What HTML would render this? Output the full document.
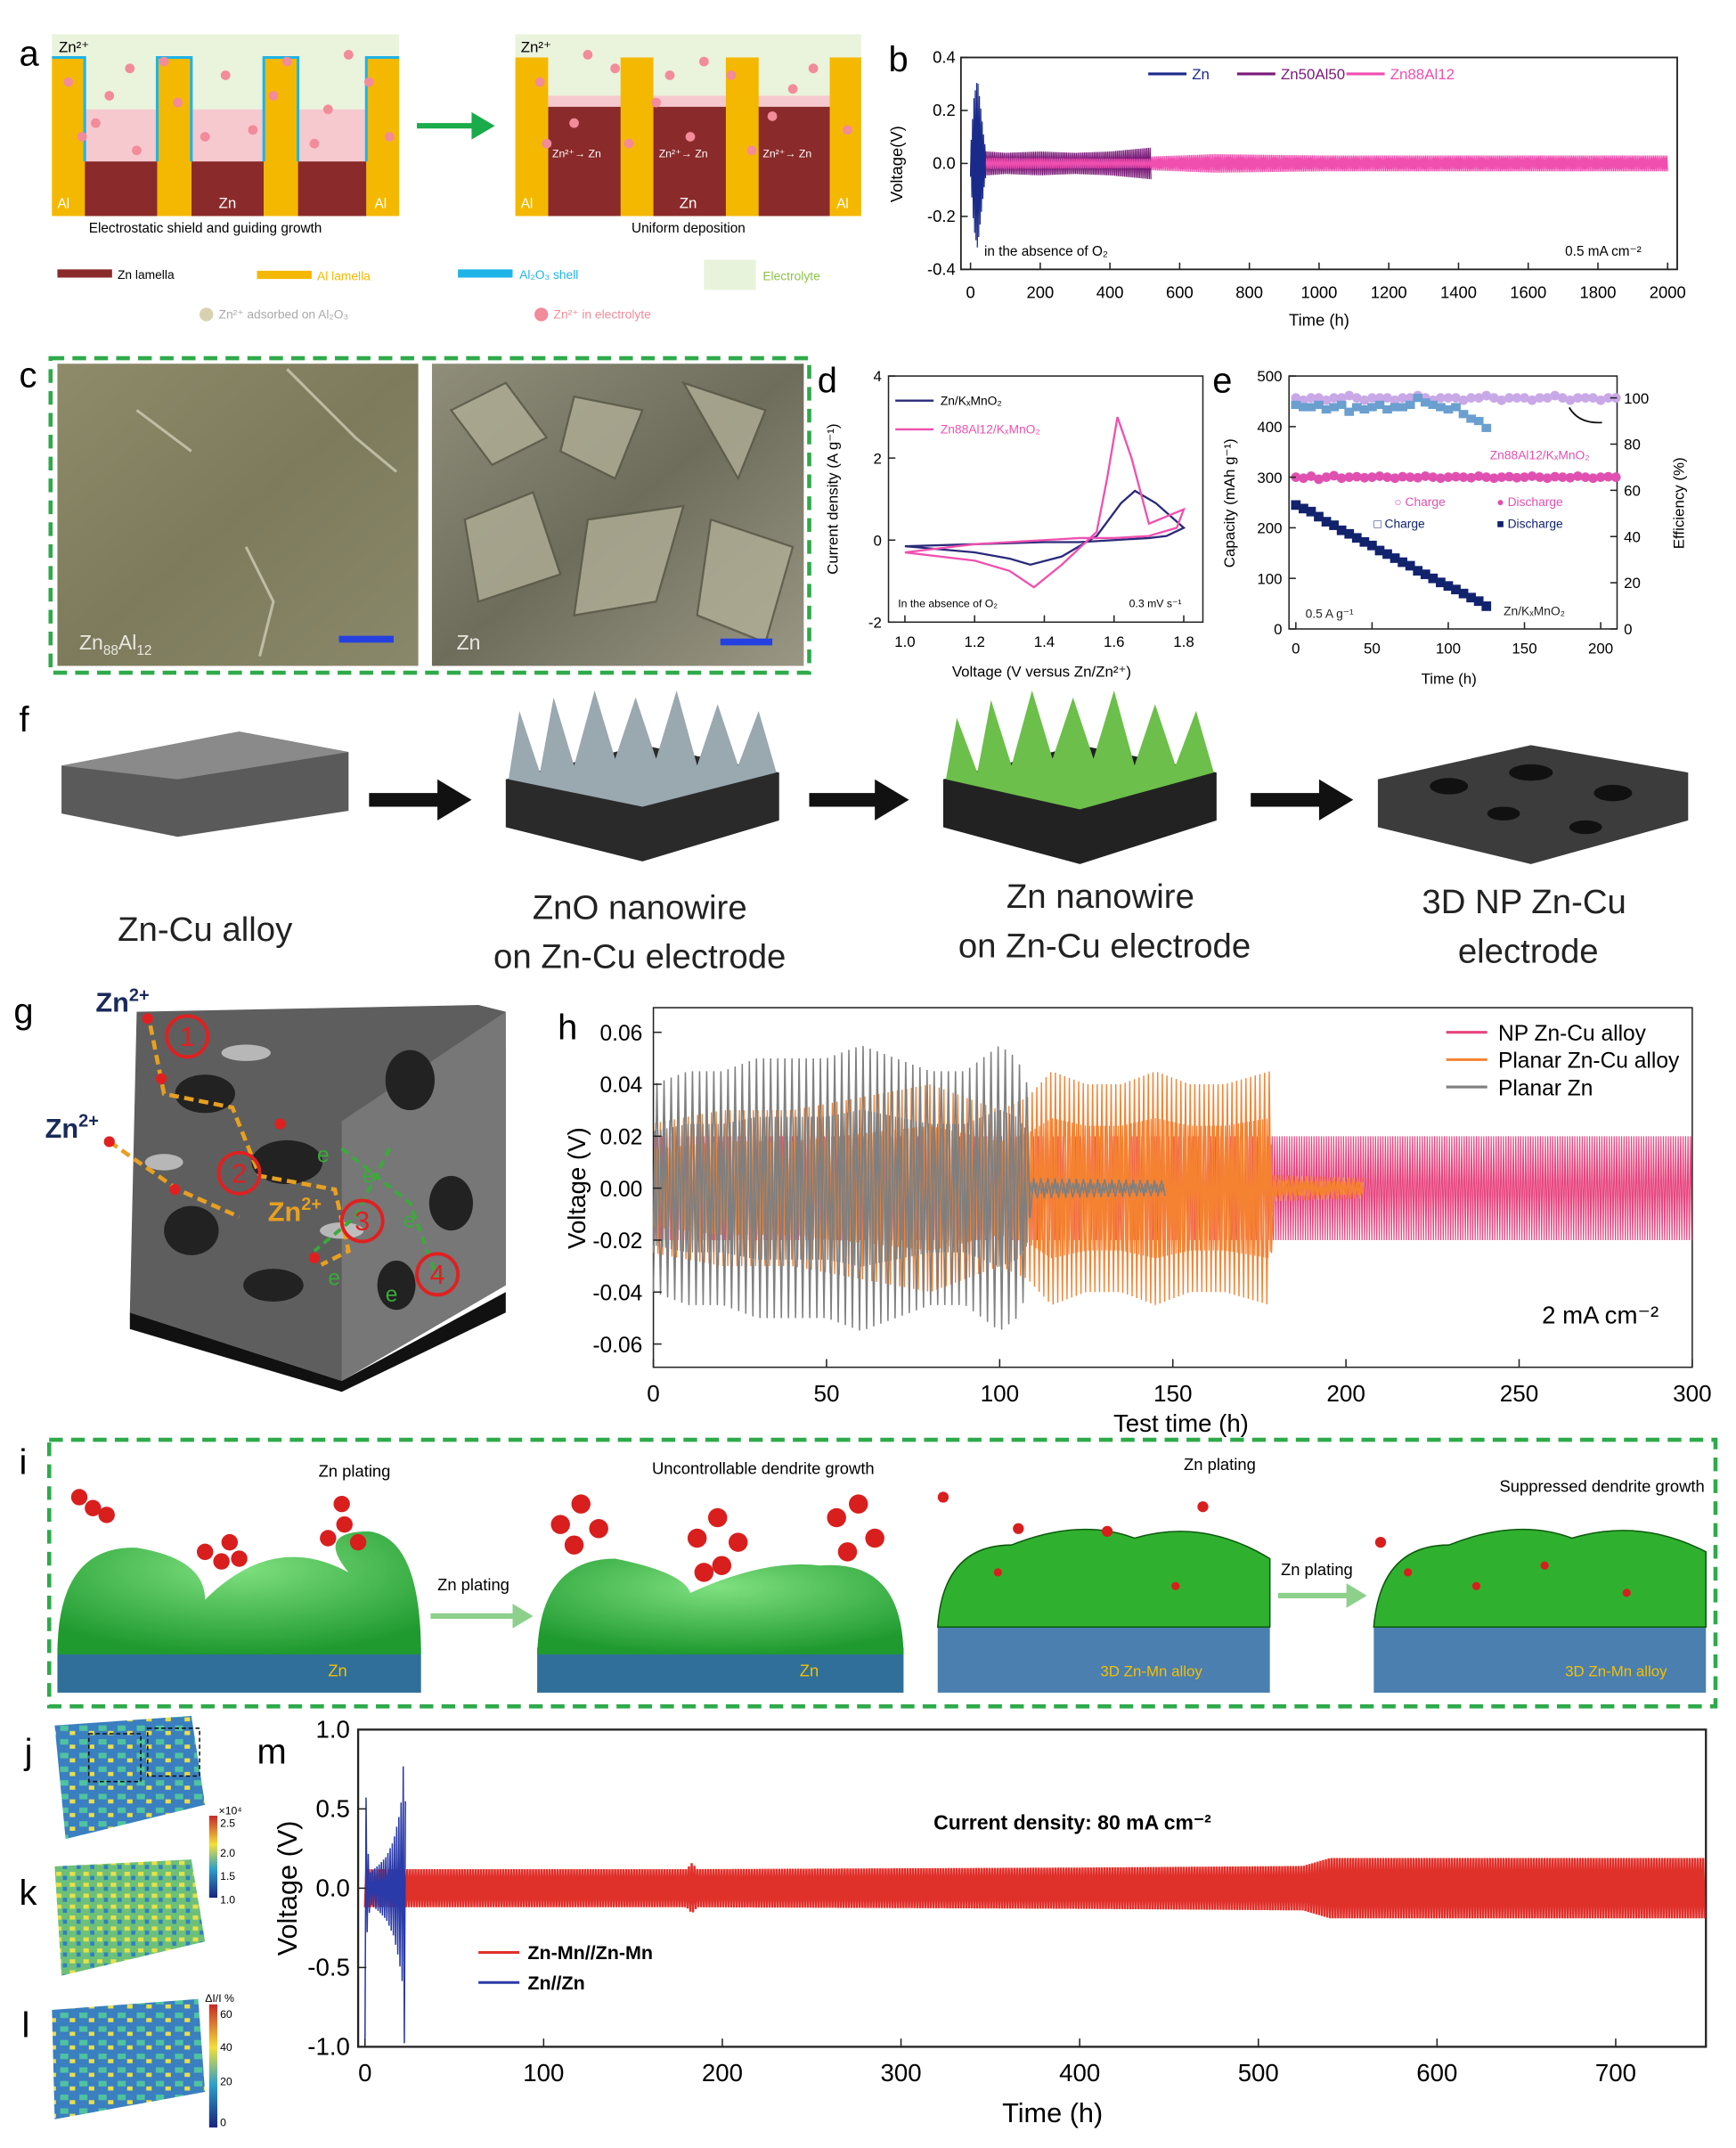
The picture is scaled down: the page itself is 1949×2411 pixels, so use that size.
<!DOCTYPE html>
<html><head><meta charset="utf-8">
<style>
html,body{margin:0;padding:0;background:#fff;}
svg{display:block;}
text{font-family:"Liberation Sans",sans-serif;}
</style></head>
<body>
<svg id="fig" xmlns="http://www.w3.org/2000/svg" width="1949" height="2411" viewBox="0 0 1270 1571">
<defs>
<linearGradient id="semL" x1="0" y1="0" x2="1" y2="1"><stop offset="0" stop-color="#8e8b6a"/><stop offset="0.5" stop-color="#7d7b5c"/><stop offset="1" stop-color="#8a886a"/></linearGradient>
<linearGradient id="semR" x1="0" y1="0" x2="1" y2="1"><stop offset="0" stop-color="#8f8e7a"/><stop offset="0.5" stop-color="#6e6d5c"/><stop offset="1" stop-color="#9a9884"/></linearGradient>
<radialGradient id="dome" cx="0.5" cy="0.3" r="0.7"><stop offset="0" stop-color="#7fe07f"/><stop offset="1" stop-color="#1f9a2f"/></radialGradient>
<linearGradient id="cb1" x1="0" y1="1" x2="0" y2="0"><stop offset="0" stop-color="#1a237e"/><stop offset="0.35" stop-color="#2ca0c8"/><stop offset="0.65" stop-color="#f2e03a"/><stop offset="1" stop-color="#c62828"/></linearGradient>
<pattern id="hm" width="14" height="10" patternUnits="userSpaceOnUse"><rect width="14" height="10" fill="#3a7fc0"/><rect x="2" y="2" width="6" height="4" fill="#4fc3a0"/><rect x="9" y="6" width="4" height="3" fill="#e8e04a"/></pattern>
<pattern id="hm2" width="10" height="8" patternUnits="userSpaceOnUse"><rect width="10" height="8" fill="#6cc07a"/><rect x="1" y="1" width="4" height="3" fill="#e8e04a"/><rect x="6" y="4" width="3" height="3" fill="#2f7fc0"/></pattern>
</defs>

<g>
<text x="14" y="48" font-size="26">a</text>
<g>
<rect x="38" y="25" width="254" height="133" fill="#eaf3dc"/>
<rect x="62" y="118" width="53" height="40" fill="#8b2a2a"/><rect x="140" y="118" width="53" height="40" fill="#8b2a2a"/><rect x="218" y="118" width="50" height="40" fill="#8b2a2a"/>
<rect x="62" y="80" width="53" height="38" fill="#f6c9cf"/><rect x="140" y="80" width="53" height="38" fill="#f6c9cf"/><rect x="218" y="80" width="50" height="38" fill="#f6c9cf"/>
<rect x="38" y="42" width="24" height="116" fill="#f5b800"/><rect x="115" y="42" width="25" height="116" fill="#f5b800"/><rect x="193" y="42" width="25" height="116" fill="#f5b800"/><rect x="268" y="42" width="24" height="116" fill="#f5b800"/>
<path d="M38 42H62V118 M115 118V42H140V118 M193 118V42H218V118 M268 118V42H292" stroke="#1eb4e8" stroke-width="2" fill="none"/>
<text x="43" y="38" font-size="11">Zn²⁺</text>
<text x="42" y="152" font-size="10" fill="#fff">Al</text><text x="160" y="152" font-size="11" fill="#fff">Zn</text><text x="274" y="152" font-size="10" fill="#fff">Al</text>
<text x="65" y="170" font-size="10">Electrostatic shield and guiding growth</text>
</g>
<path d="M305 90H345V82L362 92L345 102V94H305Z" fill="#1aab4a"/>
<g>
<rect x="377" y="25" width="253" height="133" fill="#eaf3dc"/>
<rect x="401" y="78" width="215" height="80" fill="#8b2a2a"/>
<rect x="401" y="70" width="215" height="8" fill="#f6c9cf"/>
<rect x="377" y="42" width="24" height="116" fill="#f5b800"/><rect x="454" y="42" width="24" height="116" fill="#f5b800"/><rect x="531" y="42" width="24" height="116" fill="#f5b800"/><rect x="607" y="42" width="23" height="116" fill="#f5b800"/>
<text x="381" y="38" font-size="11">Zn²⁺</text>
<text x="404" y="115" font-size="8" fill="#fff">Zn²⁺→ Zn</text><text x="482" y="115" font-size="8" fill="#fff">Zn²⁺→ Zn</text><text x="558" y="115" font-size="8" fill="#fff">Zn²⁺→ Zn</text>
<text x="381" y="152" font-size="10" fill="#fff">Al</text><text x="497" y="152" font-size="11" fill="#fff">Zn</text><text x="612" y="152" font-size="10" fill="#fff">Al</text>
<text x="462" y="170" font-size="10">Uniform deposition</text>
</g>
<g id="dotsA"></g>
<g font-size="9">
<rect x="42" y="197" width="40" height="6" fill="#8b2a2a"/><text x="86" y="204">Zn lamella</text>
<rect x="188" y="198" width="40" height="6" fill="#f5b800"/><text x="232" y="205" fill="#f5b800">Al lamella</text>
<rect x="335" y="197" width="40" height="6" fill="#1eb4e8"/><text x="380" y="204" fill="#1eb4e8">Al₂O₃ shell</text>
<rect x="515" y="190" width="38" height="22" fill="#e8f3dc"/><text x="558" y="205" fill="#8bc34a">Electrolyte</text>
<circle cx="151" cy="230" r="5" fill="#d8d0b0"/><text x="160" y="233" fill="#aaa">Zn²⁺ adsorbed on Al₂O₃</text>
<circle cx="396" cy="230" r="5" fill="#f28b9a"/><text x="405" y="233" fill="#f28b9a">Zn²⁺ in electrolyte</text>
</g>
</g>

<g id="panelB">
<text x="650" y="52" font-size="26">b</text>
</g>

<g>
<text x="14" y="283" font-size="26">c</text>
<rect x="37" y="262" width="555" height="230" fill="none" stroke="#2eaa4a" stroke-width="3" stroke-dasharray="10 6"/>
<rect x="42" y="266" width="264" height="221" fill="url(#semL)"/>
<path d="M210 270 L260 320 L290 345 M180 400 L200 440 L190 480 M100 300 L140 330" stroke="#d8d6c0" stroke-width="2" fill="none" opacity="0.7"/>
<rect x="316" y="266" width="272" height="221" fill="url(#semR)"/>
<path d="M330 300 L370 280 L400 320 L360 340Z M420 290 L470 300 L450 350 L410 330Z M500 280 L560 300 L540 350Z M340 380 L390 360 L410 420 L350 440Z M430 380 L500 370 L480 440 L420 450Z M520 380 L580 400 L560 470 L510 450Z" fill="#b0ae96" stroke="#5a5948" stroke-width="1.5" opacity="0.8"/>
<text x="58" y="475" font-size="15" fill="#e8e8e0">Zn<tspan font-size="10" dy="4">88</tspan><tspan dy="-4">Al</tspan><tspan font-size="10" dy="4">12</tspan></text>
<text x="334" y="475" font-size="15" fill="#e8e8e0">Zn</text>
<rect x="248" y="465" width="40" height="5" fill="#2540e0"/><rect x="527" y="467" width="38" height="5" fill="#2540e0"/>
</g>

<g id="panelD">
<text x="598" y="287" font-size="26">d</text>
</g>
<g id="panelE">
<text x="887" y="287" font-size="26">e</text>
</g>

<g>
<text x="14" y="535" font-size="26">f</text>
<path d="M45 560 L175 535 L255 550 L255 593 L130 612 L45 595Z" fill="#5a5a5a"/>
<path d="M45 560 L175 535 L255 550 L130 570Z" fill="#8a8a8a"/>
<path d="M270 580H320V570L345 585L320 600V590H270Z" fill="#111"/>
<path d="M592 580H640V570L665 585L640 600V590H592Z" fill="#111"/>
<path d="M915 580H965V570L990 585L965 600V590H915Z" fill="#111"/>
<g>
<path d="M370 570 L470 545 L570 565 L570 600 L470 630 L370 605Z" fill="#2a2a2a"/>
<path d="M372 570 L380 520 L395 565 L405 510 L420 560 L435 505 L450 555 L465 510 L480 555 L495 505 L510 560 L525 515 L540 560 L555 520 L568 565 L470 590Z" fill="#9aa8b0"/>
</g>
<g>
<path d="M690 570 L790 545 L890 565 L890 600 L790 632 L690 605Z" fill="#222"/>
<path d="M692 570 L700 525 L715 565 L725 512 L740 560 L755 505 L770 555 L785 510 L800 555 L815 505 L830 560 L845 515 L860 560 L875 520 L888 565 L790 592Z" fill="#6cbf4a"/>
</g>
<g>
<path d="M1008 570 L1120 545 L1235 565 L1235 600 L1120 632 L1008 605Z" fill="#3c3c3c"/>
<ellipse cx="1060" cy="575" rx="14" ry="6" fill="#111"/><ellipse cx="1120" cy="565" rx="16" ry="6" fill="#111"/><ellipse cx="1180" cy="580" rx="14" ry="6" fill="#111"/><ellipse cx="1100" cy="595" rx="12" ry="5" fill="#111"/><ellipse cx="1160" cy="605" rx="12" ry="5" fill="#111"/>
</g>
<g font-size="25" fill="#222" text-anchor="middle">
<text x="150" y="688">Zn-Cu alloy</text>
<text x="468" y="672">ZnO  nanowire</text>
<text x="468" y="708">on Zn-Cu electrode</text>
<text x="805" y="664">Zn  nanowire</text>
<text x="808" y="700">on Zn-Cu electrode</text>
<text x="1115" y="668">3D NP Zn-Cu</text>
<text x="1118" y="704">electrode</text>
</g>
</g>

<g>
<text x="10" y="748" font-size="26">g</text>
<path d="M100 740 L350 735 L370 740 L370 940 L250 1010 L95 960Z" fill="#5e5e5e"/>
<path d="M95 960 L250 1010 L370 945 L370 960 L250 1018 L95 972Z" fill="#111"/>
<path d="M250 1010 L250 820 L370 740 L370 940Z" fill="#777"/>
<g fill="#222"><ellipse cx="150" cy="800" rx="22" ry="14"/><ellipse cx="210" cy="850" rx="26" ry="16"/><ellipse cx="140" cy="900" rx="20" ry="18"/><ellipse cx="300" cy="790" rx="18" ry="22"/><ellipse cx="330" cy="880" rx="16" ry="20"/><ellipse cx="200" cy="940" rx="22" ry="12"/><ellipse cx="290" cy="940" rx="14" ry="18"/></g>
<g fill="#ddd" opacity="0.7"><ellipse cx="180" cy="770" rx="18" ry="6"/><ellipse cx="120" cy="850" rx="14" ry="6"/><ellipse cx="250" cy="900" rx="16" ry="6"/></g>
<g fill="none" stroke="#e8a020" stroke-width="3" stroke-dasharray="7 4"><path d="M110 750 L120 800 L170 810 L190 860 L245 870 L255 915 L235 925"/><path d="M80 835 L130 870 L175 890"/></g>
<g fill="none" stroke="#3aaa3a" stroke-width="2.5" stroke-dasharray="6 4"><path d="M250 840 L300 880 L320 935"/><path d="M285 840 L260 890 L230 915"/></g>
<g fill="none" stroke="#e02020" stroke-width="2.5"><circle cx="137" cy="758" r="15"/><circle cx="175" cy="858" r="15"/><circle cx="265" cy="893" r="15"/><circle cx="320" cy="932" r="15"/></g>
<g fill="#e02020" font-size="20" text-anchor="middle"><text x="137" y="765">1</text><text x="175" y="865">2</text><text x="265" y="900">3</text><text x="320" y="939">4</text></g>
<g fill="#e02020"><circle cx="108" cy="745" r="4"/><circle cx="80" cy="835" r="4"/><circle cx="128" cy="870" r="4"/><circle cx="205" cy="822" r="4"/><circle cx="230" cy="920" r="4"/><circle cx="118" cy="789" r="4"/></g>
<text x="70" y="740" font-size="20" font-weight="bold" fill="#1a2a5a">Zn<tspan font-size="13" dy="-8">2+</tspan></text>
<text x="33" y="832" font-size="20" font-weight="bold" fill="#1a2a5a">Zn<tspan font-size="13" dy="-8">2+</tspan></text>
<text x="196" y="893" font-size="20" font-weight="bold" fill="#e8a020">Zn<tspan font-size="13" dy="-8">2+</tspan></text>
<g fill="#3aaa3a" font-size="16"><text x="232" y="850">e</text><text x="265" y="865">e</text><text x="295" y="898">e</text><text x="240" y="940">e</text><text x="282" y="952">e</text></g>
</g>

<g id="panelH">
<text x="408" y="760" font-size="26">h</text>
</g>

<g>
<text x="14" y="1078" font-size="26">i</text>
<rect x="36" y="1053" width="1219" height="195" fill="none" stroke="#2eaa4a" stroke-width="3" stroke-dasharray="10 6"/>
<g>
<rect x="42" y="1205" width="266" height="33" fill="#2f6f9a"/>
<path d="M42 1210 Q42 1130 100 1132 Q150 1140 150 1170 Q200 1120 255 1150 Q230 1120 270 1120 Q308 1125 308 1210Z" fill="url(#dome)"/>
<g fill="#d91e1e"><circle cx="58" cy="1095" r="6"/><circle cx="68" cy="1103" r="6"/><circle cx="78" cy="1108" r="6"/><circle cx="150" cy="1135" r="6"/><circle cx="162" cy="1142" r="6"/><circle cx="175" cy="1140" r="6"/><circle cx="168" cy="1128" r="6"/><circle cx="240" cy="1125" r="6"/><circle cx="252" cy="1115" r="6"/><circle cx="262" cy="1128" r="6"/><circle cx="250" cy="1100" r="6"/></g>
<text x="233" y="1080" font-size="12">Zn plating</text>
<text x="240" y="1226" font-size="12" fill="#f5c000">Zn</text>
</g>
<path d="M315 1180 H375 V1173 L390 1182 L375 1191 V1184 H315Z" fill="#8cd08c"/>
<text x="320" y="1163" font-size="12">Zn plating</text>
<g>
<rect x="393" y="1205" width="268" height="33" fill="#2f6f9a"/>
<path d="M393 1210 Q395 1140 450 1140 Q500 1150 505 1165 Q560 1140 600 1145 Q660 1140 661 1210Z" fill="url(#dome)"/>
<g fill="#d91e1e"><circle cx="410" cy="1115" r="7"/><circle cx="425" cy="1100" r="7"/><circle cx="438" cy="1118" r="7"/><circle cx="420" cy="1130" r="7"/><circle cx="510" cy="1125" r="7"/><circle cx="525" cy="1110" r="7"/><circle cx="540" cy="1128" r="7"/><circle cx="528" cy="1145" r="7"/><circle cx="515" cy="1150" r="7"/><circle cx="612" cy="1110" r="7"/><circle cx="628" cy="1100" r="7"/><circle cx="640" cy="1125" r="7"/><circle cx="620" cy="1135" r="7"/></g>
<text x="477" y="1078" font-size="12">Uncontrollable dendrite growth</text>
<text x="585" y="1226" font-size="12" fill="#f5c000">Zn</text>
</g>
<g>
<rect x="686" y="1185" width="243" height="53" fill="#4a7fb0"/>
<path d="M686 1190 Q690 1130 740 1130 Q790 1110 830 1125 Q880 1110 929 1140 L929 1190Z" fill="#2fb12f" stroke="#0d5a0d" stroke-width="1"/>
<g fill="#d91e1e"><circle cx="690" cy="1095" r="4"/><circle cx="745" cy="1118" r="4"/><circle cx="810" cy="1120" r="4"/><circle cx="880" cy="1102" r="4"/><circle cx="730" cy="1150" r="3"/><circle cx="860" cy="1160" r="3"/></g>
<text x="866" y="1075" font-size="12">Zn plating</text>
<text x="805" y="1226" font-size="11" fill="#f5c000">3D Zn-Mn alloy</text>
</g>
<path d="M935 1165 H985 V1158 L1000 1167 L985 1176 V1169 H935Z" fill="#8cd08c"/>
<text x="937" y="1152" font-size="12">Zn plating</text>
<g>
<rect x="1005" y="1185" width="243" height="53" fill="#4a7fb0"/>
<path d="M1005 1190 Q1010 1130 1060 1130 Q1110 1110 1150 1125 Q1200 1110 1248 1135 L1248 1190Z" fill="#2fb12f" stroke="#0d5a0d" stroke-width="1"/>
<g fill="#d91e1e"><circle cx="1030" cy="1150" r="3"/><circle cx="1080" cy="1160" r="3"/><circle cx="1130" cy="1145" r="3"/><circle cx="1190" cy="1165" r="3"/><circle cx="1010" cy="1128" r="4"/></g>
<text x="1097" y="1091" font-size="12">Suppressed dendrite growth</text>
<text x="1145" y="1226" font-size="11" fill="#f5c000">3D Zn-Mn alloy</text>
</g>
</g>

<g>
<text x="18" y="1290" font-size="26">j</text>
<text x="14" y="1393" font-size="26">k</text>
<text x="16" y="1490" font-size="26">l</text>
<path d="M40 1262 L140 1255 L150 1320 L48 1345Z" fill="url(#hm)"/>
<rect x="65" y="1268" width="38" height="35" fill="none" stroke="#111" stroke-dasharray="3 2"/>
<rect x="108" y="1264" width="38" height="35" fill="none" stroke="#111" stroke-dasharray="3 2"/>
<rect x="153" y="1328" width="6" height="60" fill="url(#cb1)"/>
<g font-size="8"><text x="161" y="1336">2.5</text><text x="161" y="1358">2.0</text><text x="161" y="1375">1.5</text><text x="161" y="1392">1.0</text><text x="160" y="1327">×10⁴</text></g>
<path d="M40 1365 L140 1360 L150 1420 L45 1445Z" fill="url(#hm2)"/>
<path d="M38 1470 L145 1462 L150 1530 L40 1550Z" fill="url(#hm)"/>
<rect x="153" y="1466" width="6" height="90" fill="url(#cb1)"/>
<g font-size="8"><text x="161" y="1476">60</text><text x="161" y="1500">40</text><text x="161" y="1525">20</text><text x="161" y="1555">0</text><text x="150" y="1464">ΔI/I %</text></g>
</g>

<g id="panelM">
<text x="188" y="1290" font-size="26">m</text>
</g>
</svg>

<script>
const bZnT=[0,5,10,20,30,38,45];
const bZnA=[0.05,0.15,0.25,0.32,0.2,0.1,0.04];
const bZnAlT=[0,100,200,300,400,520];
const bZnAlA=[0.05,0.04,0.045,0.04,0.045,0.06];
const bZnAl12T=[0,500,700,1000,1500,2000];
const bZnAl12A=[0.03,0.025,0.035,0.03,0.03,0.03];
const bXTicks=[0,200,400,600,800,1000,1200,1400,1600,1800,2000];
const bYTicks=[-0.4,-0.2,0.0,0.2,0.4];

const dNavyV=[1.0,1.2,1.3,1.36,1.45,1.55,1.62,1.66,1.72,1.78,1.8,1.75,1.7,1.6,1.5,1.4,1.2,1.0];
const dNavyI=[-0.15,-0.3,-0.45,-0.6,-0.4,0.1,0.9,1.2,0.9,0.45,0.3,0.1,0.05,0.0,-0.05,-0.05,-0.1,-0.15];
const dPinkV=[1.0,1.2,1.3,1.37,1.45,1.55,1.58,1.61,1.65,1.7,1.8,1.78,1.7,1.6,1.5,1.4,1.2,1.0];
const dPinkI=[-0.3,-0.5,-0.75,-1.15,-0.6,0.2,1.5,3.0,2.0,0.4,0.75,0.3,0.1,0.05,0.05,0.0,-0.1,-0.3];
const dXTicks=[1.0,1.2,1.4,1.6,1.8];
const dYTicks=[-2,0,2,4];

const eZnAlT=[0,5,10,15,20,25,30,35,40,45,50,55,60,65,70,75,80,85,90,95,100,105,110,115,120,125,130,135,140,145,150,155,160,165,170,175,180,185,190,195,200,205,210];
const eZnAlCap=[300,298,302,296,300,303,298,300,301,299,300,302,300,298,301,300,299,302,300,298,300,301,300,299,302,300,298,300,301,299,300,302,300,298,301,300,299,302,300,298,300,301,300];
const eZnAlEff=[100,99,100,100,99,100,100,101,100,99,100,100,100,99,100,100,101,100,99,100,100,100,99,100,100,101,100,99,100,100,100,99,100,100,101,100,99,100,100,100,99,100,100];
const eZnT=[0,5,10,15,20,25,30,35,40,45,50,55,60,65,70,75,80,85,90,95,100,105,110,115,120,125];
const eZnCap=[245,238,232,222,212,205,195,188,180,172,165,155,148,140,132,125,115,108,100,92,85,78,70,62,55,45];
const eZnEff=[97,96,96,97,95,96,97,94,96,95,96,97,95,96,96,97,100,98,97,96,95,96,93,91,90,87];
const eXTicks=[0,50,100,150,200];
const eYTicks=[0,100,200,300,400,500];
const eY2Ticks=[0,20,40,60,80,100];

const hPinkT=[0,100,178,180,300];
const hPinkA=[0.02,0.02,0.02,0.02,0.02];
const hOrangeT=[0,20,40,60,80,100,108,115,125,135,145,155,165,178,179,205];
const hOrangeA=[0.025,0.03,0.03,0.035,0.04,0.03,0.035,0.045,0.04,0.04,0.045,0.04,0.04,0.045,0.005,0.004];
const hGrayT=[0,10,20,30,40,50,60,70,80,90,100,105,108,109,148];
const hGrayA=[0.04,0.045,0.045,0.05,0.05,0.05,0.055,0.05,0.045,0.045,0.055,0.05,0.04,0.004,0.003];
const hXTicks=[0,50,100,150,200,250,300];
const hYTicks=[-0.06,-0.04,-0.02,0.00,0.02,0.04,0.06];

const mBlueT=[0,1,3,8,12,16,19,21,22,23];
const mBlueA=[1.0,0.3,0.1,0.15,0.2,0.3,0.45,0.6,1.0,0.3];
const mRedT=[0,180,183,186,400,525,540,750];
const mRedA=[0.12,0.12,0.16,0.12,0.13,0.14,0.19,0.19];
const mXTicks=[0,100,200,300,400,500,600,700];
const mYTicks=[-1.0,-0.5,0.0,0.5,1.0];

const NS='http://www.w3.org/2000/svg';
function mk(tag,attrs,parent){const e=document.createElementNS(NS,tag);for(const k in attrs)e.setAttribute(k,attrs[k]);parent.appendChild(e);return e;}
function lin(d0,d1,r0,r1){return v=>r0+(v-d0)*(r1-r0)/(d1-d0);}
function interp(ts,vs,t){for(let i=0;i<ts.length-1;i++){if(t<=ts[i+1]){const f=(t-ts[i])/((ts[i+1]-ts[i])||1);return vs[i]+f*(vs[i+1]-vs[i]);}}return vs[vs.length-1];}
function zig(ts,as,sx,sy,step){const p0=sx(ts[0]),p1=sx(ts[ts.length-1]);let d='';let i=0;
 for(let px=p0;px<=p1;px+=step){const t=ts[0]+(px-p0)/(p1-p0||1)*(ts[ts.length-1]-ts[0]);const a=interp(ts,as,t);d+=(i?'L':'M')+px.toFixed(2)+','+sy(i%2?a:-a).toFixed(2);i++;}return d;}
function frame(g,x0,y0,x1,y1,sw){mk('rect',{x:x0,y:y0,width:x1-x0,height:y1-y0,fill:'none',stroke:'#222','stroke-width':sw||1},g);}

(function(){const g=document.getElementById('dotsA');
 const cols=[[50,60],[70,90],[95,50],[130,75],[165,55],[185,95],[210,45],[240,80],[270,60],[285,100],[60,100],[150,100],[120,45],[230,105],[80,70],[200,70],[255,40],[100,110],[395,60],[420,90],[450,50],[480,75],[505,100],[535,55],[565,85],[595,50],[620,95],[400,105],[460,105],[550,110],[430,40],[515,45],[580,65],[490,55]];
 cols.forEach(c=>{const d=mk('circle',{cx:c[0],cy:c[1],r:3.5,fill:'#f28b9a'},g);
 
 });})();

(function(){const g=document.getElementById('panelB');
 const sx=lin(0,2000,710,1220), sy=lin(-0.4,0.4,197,42);
 frame(g,703,42,1227,197,1.2);
 const p1=mk('path',{d:zig(bZnAl12T,bZnAl12A,sx,sy,0.6),stroke:'#f04fb0','stroke-width':0.8,fill:'none'},g);
 
 
 const p2=mk('path',{d:zig(bZnAlT,bZnAlA,sx,sy,0.6),stroke:'#7a1a78','stroke-width':0.8,fill:'none'},g);
 
 
 const p1b=mk('path',{d:zig(bZnAl12T,bZnAl12A.map(a=>a*0.7),sx,sy,0.7),stroke:'#f04fb0','stroke-width':0.8,fill:'none'},g);
 
 
 const p3=mk('path',{d:zig(bZnT,bZnA,sx,sy,0.5),stroke:'#1a2a8a','stroke-width':0.8,fill:'none'},g);
 
 
 bXTicks.forEach(v=>{mk('line',{x1:sx(v),x2:sx(v),y1:197,y2:192,stroke:'#222'},g);
  const t=mk('text',{x:sx(v),y:218,'font-size':12,'text-anchor':'middle'},g);t.textContent=v;
  
  });
 bYTicks.forEach(v=>{mk('line',{x1:703,x2:708,y1:sy(v),y2:sy(v),stroke:'#222'},g);
  const t=mk('text',{x:699,y:sy(v)+4,'font-size':12,'text-anchor':'end'},g);t.textContent=v.toFixed(1);
  
  });
 const xt=mk('text',{x:965,y:238,'font-size':12,'text-anchor':'middle'},g);xt.textContent='Time (h)';
 
 
 const yt=mk('text',{x:0,y:0,'font-size':12,'text-anchor':'middle',transform:'translate(660,120) rotate(-90)'},g);yt.textContent='Voltage(V)';
 
 
 const leg=[['#1a2a8a','Zn',840],['#7a1a78','Zn50Al50',905],['#f04fb0','Zn88Al12',985]];
 leg.forEach(l=>{mk('line',{x1:l[2],x2:l[2]+28,y1:54,y2:54,stroke:l[0],'stroke-width':2},g);
  const t=mk('text',{x:l[2]+32,y:58,'font-size':11,fill:l[0]},g);t.textContent=l[1];
  
  });
 const a1=mk('text',{x:720,y:187,'font-size':10},g);a1.textContent='in the absence of O₂';
 const a2=mk('text',{x:1145,y:187,'font-size':10},g);a2.textContent='0.5 mA cm⁻²';
})();

(function(){const g=document.getElementById('panelD');
 const sx=lin(1.0,1.8,662,866), sy=lin(-2,4,455,275);
 frame(g,650,275,880,455,1);
 const pts=(V,I)=>V.map((v,i)=>sx(v).toFixed(1)+','+sy(I[i]).toFixed(1)).join(' ');
 const n=mk('polygon',{points:pts(dNavyV,dNavyI),stroke:'#2a2a7a','stroke-width':1.5,fill:'none'},g);
 
 
 const p=mk('polygon',{points:pts(dPinkV,dPinkI),stroke:'#f050b0','stroke-width':1.5,fill:'none'},g);
 
 
 dXTicks.forEach(v=>{mk('line',{x1:sx(v),x2:sx(v),y1:455,y2:450,stroke:'#222'},g);
  const t=mk('text',{x:sx(v),y:473,'font-size':11,'text-anchor':'middle'},g);t.textContent=v.toFixed(1);
  
  });
 dYTicks.forEach(v=>{mk('line',{x1:650,x2:655,y1:sy(v),y2:sy(v),stroke:'#222'},g);
  const t=mk('text',{x:645,y:sy(v)+4,'font-size':11,'text-anchor':'end'},g);t.textContent=v;
  
  });
 const xt=mk('text',{x:762,y:495,'font-size':11,'text-anchor':'middle'},g);xt.textContent='Voltage (V versus Zn/Zn²⁺)';
 
 
 const yt=mk('text',{x:0,y:0,'font-size':11,'text-anchor':'middle',transform:'translate(613,365) rotate(-90)'},g);yt.textContent='Current density (A g⁻¹)';
 
 
 mk('line',{x1:655,x2:683,y1:293,y2:293,stroke:'#2a2a7a','stroke-width':1.5},g);
 const l1=mk('text',{x:688,y:296,'font-size':9},g);l1.textContent='Zn/KₓMnO₂';
 mk('line',{x1:655,x2:683,y1:314,y2:314,stroke:'#f050b0','stroke-width':1.5},g);
 const l2=mk('text',{x:688,y:317,'font-size':9,fill:'#f050b0'},g);l2.textContent='Zn88Al12/KₓMnO₂';
 const a1=mk('text',{x:657,y:444,'font-size':8},g);a1.textContent='In the absence of O₂';
 const a2=mk('text',{x:826,y:444,'font-size':8},g);a2.textContent='0.3 mV s⁻¹';
})();

(function(){const g=document.getElementById('panelE');
 const sx=lin(0,200,948,1171), sy=lin(0,500,460,275), sy2=lin(0,100,460,291);
 frame(g,943,275,1183,460,1);
 eZnAlT.forEach((t,i)=>{const c=mk('circle',{cx:sx(t),cy:sy2(eZnAlEff[i]),r:3.5,fill:'#c9a8e8'},g);
  
  });
 eZnAlT.forEach((t,i)=>{const c=mk('circle',{cx:sx(t),cy:sy(eZnAlCap[i]),r:3.5,fill:'#e050b0'},g);
  
  });
 eZnT.forEach((t,i)=>{const c=mk('rect',{x:sx(t)-3.5,y:sy2(eZnEff[i])-3,width:7,height:6,fill:'#6a9fd0'},g);
  
  });
 eZnT.forEach((t,i)=>{const c=mk('rect',{x:sx(t)-3.5,y:sy(eZnCap[i])-3.5,width:7,height:7,fill:'#12236e'},g);
  
  });
 eXTicks.forEach(v=>{mk('line',{x1:sx(v),x2:sx(v),y1:460,y2:455,stroke:'#222'},g);
  const t=mk('text',{x:sx(v),y:478,'font-size':11,'text-anchor':'middle'},g);t.textContent=v;
  
  });
 eYTicks.forEach(v=>{mk('line',{x1:943,x2:948,y1:sy(v),y2:sy(v),stroke:'#222'},g);
  const t=mk('text',{x:938,y:sy(v)+4,'font-size':11,'text-anchor':'end'},g);t.textContent=v;
  
  });
 eY2Ticks.forEach(v=>{mk('line',{x1:1178,x2:1183,y1:sy2(v),y2:sy2(v),stroke:'#222'},g);
  const t=mk('text',{x:1188,y:sy2(v)+4,'font-size':11},g);t.textContent=v;
  
  });
 const xt=mk('text',{x:1060,y:500,'font-size':11,'text-anchor':'middle'},g);xt.textContent='Time (h)';
 
 
 const yt=mk('text',{x:0,y:0,'font-size':11,'text-anchor':'middle',transform:'translate(903,368) rotate(-90)'},g);yt.textContent='Capacity (mAh g⁻¹)';
 
 
 const y2=mk('text',{x:0,y:0,'font-size':11,'text-anchor':'middle',transform:'translate(1232,368) rotate(-90)'},g);y2.textContent='Efficiency (%)';
 
 
 const tx=[[1090,336,'Zn88Al12/KₓMnO₂','#e050b0'],[1020,370,'○ Charge','#e050b0'],[1095,370,'● Discharge','#e050b0'],[1005,386,'□ Charge','#12236e'],[1095,386,'■ Discharge','#12236e'],[955,452,'0.5 A g⁻¹','#222'],[1100,450,'Zn/KₓMnO₂','#222']];
 tx.forEach(a=>{const t=mk('text',{x:a[0],y:a[1],'font-size':9,fill:a[3]},g);t.textContent=a[2];});
 mk('path',{d:'M1148 298 Q1155 310 1172 309',stroke:'#111',fill:'none','stroke-width':1.2},g);
})();

(function(){const g=document.getElementById('panelH');
 const sx=lin(0,300,478,1238), sy=lin(-0.06,0.06,983,755);
 frame(g,478,737,1238,1000,1);
 const p1=mk('path',{d:zig(hPinkT,hPinkA,sx,sy,0.9),stroke:'#e8457f','stroke-width':0.8,fill:'none'},g);
 
 
 const p2b=mk('path',{d:zig(hOrangeT,hOrangeA.map(a=>a*0.6),sx,sy,0.8),stroke:'#f58231','stroke-width':0.8,fill:'none'},g);
 
 
 const p2=mk('path',{d:zig(hOrangeT,hOrangeA,sx,sy,1.7),stroke:'#f58231','stroke-width':0.9,fill:'none'},g);
 
 
 const p3=mk('path',{d:zig(hGrayT,hGrayA.map(a=>a*0.55),sx,sy,1.1),stroke:'#7f7f7f','stroke-width':0.8,fill:'none'},g);
 
 
 const p3b=mk('path',{d:zig(hGrayT,hGrayA,sx,sy,2.6),stroke:'#7f7f7f','stroke-width':1,fill:'none'},g);
 
 
 hXTicks.forEach(v=>{mk('line',{x1:sx(v),x2:sx(v),y1:1000,y2:994,stroke:'#222'},g);
  const t=mk('text',{x:sx(v),y:1025,'font-size':17,'text-anchor':'middle'},g);t.textContent=v;
  
  });
 hYTicks.forEach(v=>{mk('line',{x1:478,x2:484,y1:sy(v),y2:sy(v),stroke:'#222'},g);
  const t=mk('text',{x:470,y:sy(v)+6,'font-size':16,'text-anchor':'end'},g);t.textContent=v.toFixed(2);
  
  });
 const xt=mk('text',{x:864,y:1047,'font-size':18,'text-anchor':'middle'},g);xt.textContent='Test time (h)';
 
 
 const yt=mk('text',{x:0,y:0,'font-size':18,'text-anchor':'middle',transform:'translate(428,869) rotate(-90)'},g);yt.textContent='Voltage (V)';
 
 
 const leg=[['#e8457f','NP Zn-Cu alloy',755],['#f58231','Planar Zn-Cu alloy',775],['#7f7f7f','Planar Zn',795]];
 leg.forEach(l=>{mk('line',{x1:1058,x2:1088,y1:l[2],y2:l[2],stroke:l[0],'stroke-width':2},g);
  const t=mk('text',{x:1096,y:l[2]+6,'font-size':16},g);t.textContent=l[1];
  
  });
 const ann=mk('text',{x:1128,y:968,'font-size':18},g);ann.textContent='2 mA cm⁻²';
 
 
})();

(function(){const g=document.getElementById('panelM');
 const sx=lin(0,700,267,1182), sy=lin(-1,1,1497,1265);
 frame(g,262,1265,1248,1497,1.5);
 const r=mk('path',{d:zig(mRedT,mRedA,sx,sy,1.0),stroke:'#e0302a','stroke-width':1.6,fill:'none'},g);
 
 
 const b=mk('path',{d:zig(mBlueT,mBlueA,sx,sy,0.8),stroke:'#2a3aa8','stroke-width':1,fill:'none'},g);
 
 
 mXTicks.forEach(v=>{mk('line',{x1:sx(v),x2:sx(v),y1:1497,y2:1491,stroke:'#222'},g);
  const t=mk('text',{x:sx(v),y:1522,'font-size':18,'text-anchor':'middle'},g);t.textContent=v;
  
  });
 mYTicks.forEach(v=>{mk('line',{x1:262,x2:268,y1:sy(v),y2:sy(v),stroke:'#222'},g);
  const t=mk('text',{x:256,y:sy(v)+6,'font-size':18,'text-anchor':'end'},g);t.textContent=v.toFixed(1);
  
  });
 const xt=mk('text',{x:770,y:1552,'font-size':20,'text-anchor':'middle'},g);xt.textContent='Time (h)';
 
 
 const yt=mk('text',{x:0,y:0,'font-size':20,'text-anchor':'middle',transform:'translate(217,1381) rotate(-90)'},g);yt.textContent='Voltage (V)';
 
 
 const ann=mk('text',{x:683,y:1338,'font-size':15,'font-weight':'bold'},g);ann.textContent='Current density: 80 mA cm⁻²';
 
 
 const leg=[['#e0302a','Zn-Mn//Zn-Mn',1428],['#2a3aa8','Zn//Zn',1450]];
 leg.forEach(l=>{mk('line',{x1:350,x2:380,y1:l[2],y2:l[2],stroke:l[0],'stroke-width':2},g);
  const t=mk('text',{x:386,y:l[2]+5,'font-size':14,'font-weight':'bold'},g);t.textContent=l[1];
  
  });
})();
</script>
</body></html>
